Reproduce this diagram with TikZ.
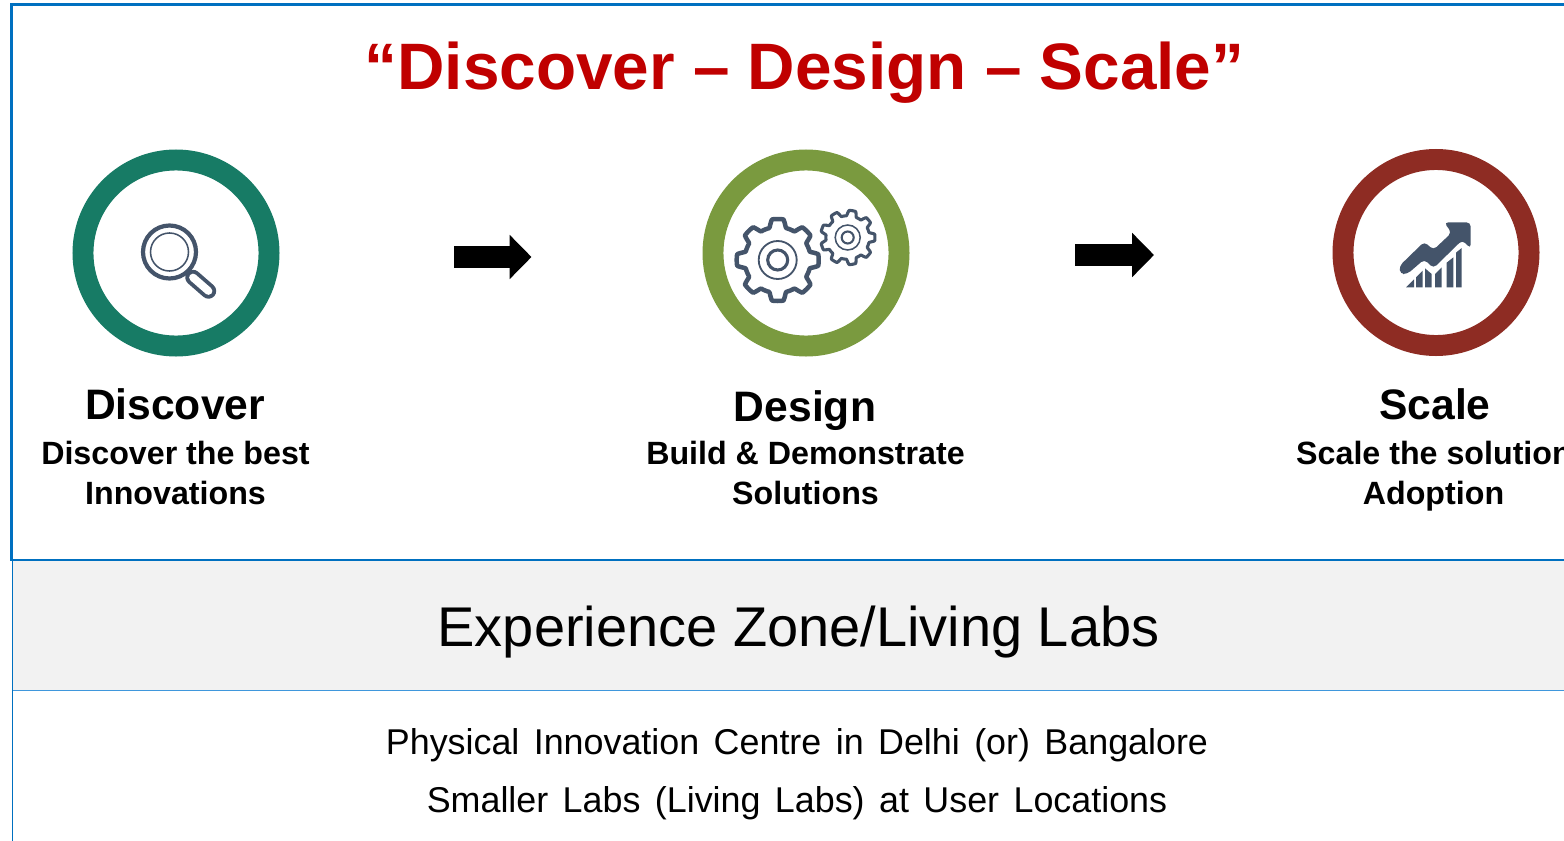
\documentclass[tikz,border=0pt]{standalone}
\usepackage{fontspec}
\setmainfont{Liberation Sans}
\newfontfamily\widefont[WordSpace=1.45]{Liberation Sans}
\usetikzlibrary{arrows.meta}
\definecolor{framecol}{HTML}{0070C0}
\definecolor{rulecol}{HTML}{3F97DC}
\definecolor{panelcol}{HTML}{F2F2F2}
\definecolor{titlecol}{HTML}{C00000}
\definecolor{iconcol}{HTML}{44546A}
\definecolor{discovercol}{HTML}{177B65}
\definecolor{designcol}{HTML}{7A9A3F}
\definecolor{scalecol}{HTML}{8E2C23}
\tikzset{
  ring/.style={circle, draw=#1, line width=14.9pt, minimum size=4.65cm, inner sep=0pt, outer sep=0pt},
  heading/.style={anchor=base, font=\fontsize{30.3}{32}\selectfont\bfseries},
  subtext/.style={anchor=base, font=\fontsize{22.9}{25}\selectfont\bfseries},
  bottomtext/.style={anchor=base, font=\fontsize{25.5}{28}\selectfont\widefont},
  blockarrow/.style={line width=16.3pt, -{Triangle[length=15.5pt, width=30.5pt]}},
  pixels/.style={x=0.008333cm, y=-0.008333cm}
}
\newcommand{\geartrace}[4]{
  \draw[iconcol, line width=#4pt, line join=round] plot[domain=0:360, samples=217] ({(#1+#2*max(-1,min(1,2.4*cos(#3*\x)))) * cos(\x)}, {(#1+#2*max(-1,min(1,2.4*cos(#3*\x)))) * sin(\x)}) -- cycle;
}
\begin{document}
\begin{tikzpicture}[x=0.025cm, y=-0.025cm]
\useasboundingbox (0,0) rectangle (1564,841);
\fill[panelcol] (12.5,560) rectangle (1564,690);
\draw[framecol, line width=1.2pt] (12.5,560) -- (12.5,841);
\draw[rulecol, line width=1pt] (12.5,690.5) -- (1564,690.5);
\draw[framecol, line width=1.8pt] (1564,4.5) -- (11.5,4.5) -- (11.5,560) -- (1564,560);

\node[anchor=base, text=titlecol, font=\fontsize{46.7}{50}\selectfont\bfseries] (title) at (804.5,90) {“Discover – Design – Scale”};

\node[ring=discovercol] (discoverring) at (176,253) {};
\node[ring=designcol] (designring) at (806,253) {};
\node[ring=scalecol] (scalering) at (1436,252.5) {};

\coordinate (arrowa) at (454,257);
\coordinate (arrowb) at (531.5,257);
\coordinate (arrowc) at (1075,255);
\coordinate (arrowd) at (1154,255);
\draw[blockarrow] (arrowa) -- (arrowb);
\draw[blockarrow] (arrowc) -- (arrowd);

\draw[iconcol, line width=3pt] (169.5,252) circle (26.5);
\draw[iconcol, line width=1.1pt] (169.5,252) circle (19);
\draw[iconcol, line width=3pt] (187,271) -- (192,276);
\draw[iconcol, line width=11pt, line cap=round] (193,277.5) -- (208.5,291);
\draw[white, line width=5.5pt, line cap=round] (193,277.5) -- (208.5,291);

\begin{scope}[shift={(777.7,260)}]
\geartrace{37}{4}{8}{3.2}
\draw[iconcol, line width=1.3pt] (0,0) circle (19);
\draw[iconcol, line width=2.2pt] (0,0) circle (10);
\end{scope}
\begin{scope}[shift={(847.7,237.5)}]
\geartrace{24.5}{2.7}{9}{2.2}
\draw[iconcol, line width=1.1pt] (0,0) circle (12.5);
\draw[iconcol, line width=1.5pt] (0,0) circle (6);
\end{scope}

\begin{scope}[shift={(1320,140)}, pixels]
\fill[iconcol, rounded corners=3pt] (238,378) -- (313,305) -- (340,330) -- (395,278) -- (372,247) -- (452,247) -- (452,326) -- (427,300) -- (340,385) -- (313,358) -- (262,402) -- (240,402) -- cycle;
\fill[iconcol] (258,442) -- (282,418) -- (282,442) -- cycle;
\fill[iconcol] (288,412) -- (308,392) -- (308,442) -- (288,442) -- cycle;
\fill[iconcol] (315,385) -- (335,402) -- (335,442) -- (315,442) -- cycle;
\fill[iconcol] (345,402) -- (365,382) -- (365,442) -- (345,442) -- cycle;
\fill[iconcol] (380,368) -- (400,352) -- (400,442) -- (380,442) -- cycle;
\fill[iconcol] (408,338) -- (425,324) -- (425,442) -- (408,442) -- cycle;
\end{scope}

\node[heading] (discoverhead) at (175,419) {Discover};
\node[subtext] (discoverone) at (175.5,464) {Discover the best};
\node[subtext] (discovertwo) at (175.5,504) {Innovations};

\node[heading] (designhead) at (805,421) {Design};
\node[subtext] (designone) at (805.5,464) {Build \& Demonstrate};
\node[subtext] (designtwo) at (805.5,504) {Solutions};

\node[heading] (scalehead) at (1435,419) {Scale};
\node[subtext] (scaleone) at (1434,464) {Scale the solution};
\node[subtext] (scaletwo) at (1433.5,504) {Adoption};

\node[anchor=base, font=\fontsize{39.8}{43}\selectfont] (labs) at (798.5,646.5) {Experience Zone/Living Labs};
\node[bottomtext] (centre) at (797,754) {Physical Innovation Centre in Delhi (or) Bangalore};
\node[bottomtext] (smaller) at (797,812) {Smaller Labs (Living Labs) at User Locations};
\end{tikzpicture}
\end{document}
